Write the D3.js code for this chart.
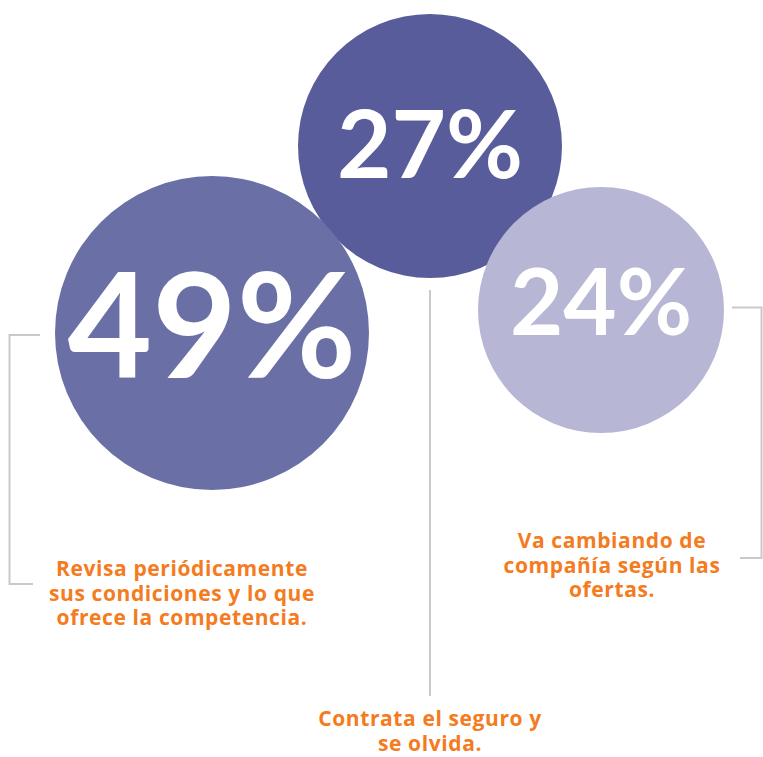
<!DOCTYPE html>
<html><head><meta charset="utf-8">
<script src="https://cdn.jsdelivr.net/npm/d3@7"></script>
<style>body{margin:0;background:#fff}svg{display:block}</style>
</head><body>
<script>
const values = [49, 27, 24];
const valueLabels = ["49%", "27%", "24%"];
const descriptions = [
  ["Revisa periódicamente", "sus condiciones y lo que", "ofrece la competencia."],
  ["Contrata el seguro y", "se olvida."],
  ["Va cambiando de", "compañía según las", "ofertas."]
];
const colors = ["#6a6fa6", "#595c9b", "#b7b7d5"];

// layout (not data)
const layout = [
  {cx: 212, cy: 333, r: 157, fs: 146, ty: 378, lx: 182, ly: 576},
  {cx: 430, cy: 146, r: 132, fs: 94, ty: 178, lx: 430, ly: 726},
  {cx: 601, cy: 310, r: 123, fs: 92, ty: 335, lx: 612, ly: 548}
];
const W = 763, H = 757;
const svg = d3.select("body").append("svg").attr("width", W).attr("height", H);

const data = values.map((v, i) => ({v, label: valueLabels[i], desc: descriptions[i], color: colors[i], ...layout[i]}));

// bracket lines
const lineColor = "#c9c9c9";
const g = svg.append("g").attr("stroke", lineColor).attr("stroke-width", 2).attr("fill", "none");
g.append("path").attr("d", "M40,335 H9.5 V584 H33");
g.append("path").attr("d", "M430,290 V696");
g.append("path").attr("d", "M732,307.5 H761.5 V558 H740");

// circles: middle first, then others on top
const order = [1, 0, 2];
svg.append("g").selectAll("circle").data(order.map(i => data[i])).join("circle")
  .attr("cx", d => d.cx).attr("cy", d => d.cy).attr("r", d => d.r)
  .attr("fill", d => d.color);

svg.append("g").selectAll("text").data(data).join("text")
  .attr("x", d => d.cx).attr("y", d => d.ty)
  .attr("text-anchor", "middle")
  .attr("font-family", "Lato, sans-serif").attr("font-weight", 700)
  .attr("font-size", d => d.fs).attr("fill", "#fff")
  .text(d => d.label);

const lg = svg.append("g").selectAll("text").data(data).join("text")
  .attr("text-anchor", "middle")
  .attr("font-family", "'Open Sans', sans-serif").attr("font-weight", 700)
  .attr("font-size", 21).attr("letter-spacing", 0.6).attr("fill", "#f47b20");
lg.each(function(d) {
  const t = d3.select(this);
  d.desc.forEach((line, j) => {
    t.append("tspan").attr("x", d.lx).attr("y", d.ly + j * 24.5).text(line);
  });
});
</script>
</body></html>
